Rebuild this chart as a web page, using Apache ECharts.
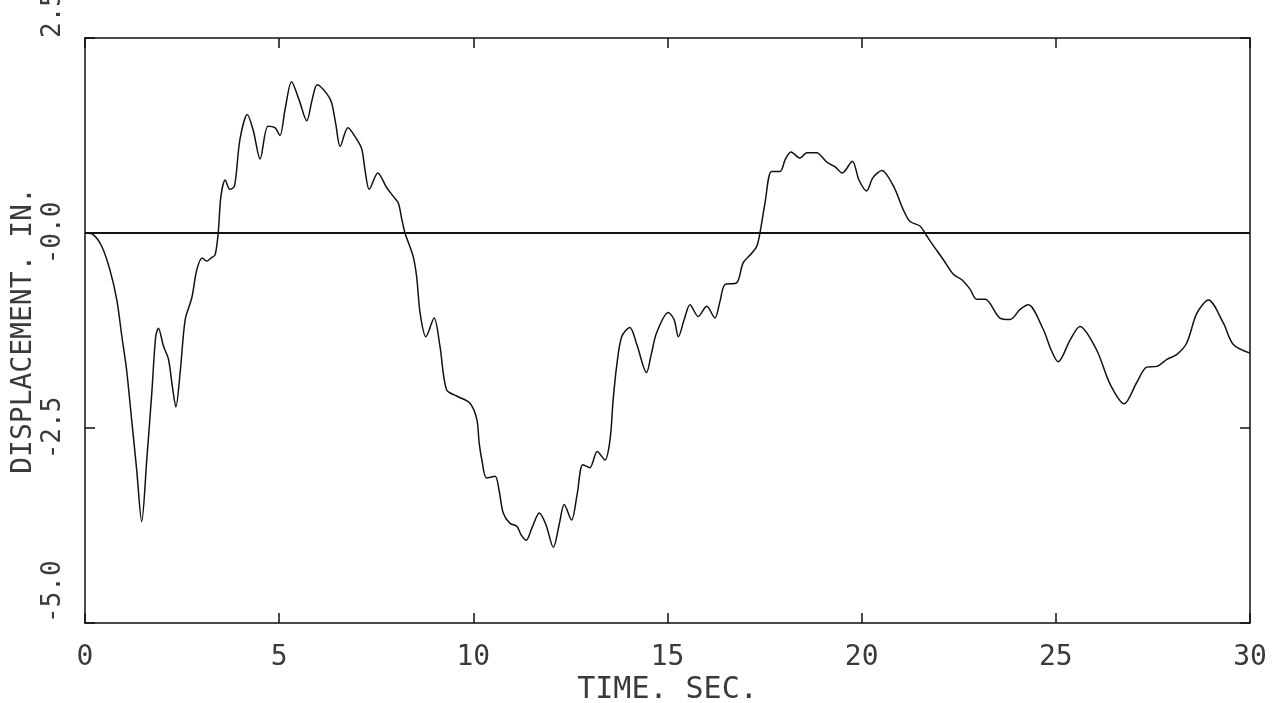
<!DOCTYPE html>
<html>
<head>
<meta charset="utf-8">
<script src="https://cdn.jsdelivr.net/npm/echarts@6/dist/echarts.min.js"></script>
<style>
  html, body { margin: 0; padding: 0; background: #fff; }
  #chart { width: 1281px; height: 703px; }
</style>
</head>
<body>
<div id="chart"></div>
<script>
// Time (sec) samples
const timeSec = [
  0, 0.21, 0.43, 0.64, 0.82, 0.95, 1.07, 1.20, 1.33, 1.46, 1.59, 1.72, 1.82, 1.89, 2.02, 2.15, 2.25, 2.34, 2.45, 2.58,
  2.75, 2.88, 3.02, 3.13, 3.25, 3.35, 3.43, 3.50, 3.61, 3.73, 3.85, 3.99, 4.18, 4.33, 4.51, 4.71, 4.89, 5.02, 5.15, 5.32,
  5.51, 5.71, 5.85, 5.98, 6.22, 6.35, 6.46, 6.57, 6.77, 7.00, 7.13, 7.21, 7.32, 7.54, 7.77, 7.94, 8.07, 8.16, 8.24, 8.45,
  8.54, 8.63, 8.78, 8.99, 9.14, 9.31, 9.57, 9.91, 10.09, 10.15, 10.22, 10.34, 10.56, 10.66, 10.77, 10.94, 11.12, 11.23, 11.36, 11.51,
  11.70, 11.87, 12.06, 12.21, 12.34, 12.53, 12.67, 12.82, 13.00, 13.19, 13.39, 13.52, 13.60, 13.69, 13.82, 14.03, 14.21, 14.46, 14.58, 14.72,
  15.02, 15.17, 15.28, 15.43, 15.58, 15.79, 16.01, 16.22, 16.35, 16.48, 16.78, 16.95, 17.17, 17.30, 17.38, 17.51, 17.68, 17.90, 18.03, 18.18,
  18.41, 18.59, 18.84, 19.10, 19.31, 19.50, 19.76, 19.93, 20.13, 20.29, 20.52, 20.82, 21.07, 21.24, 21.50, 21.63, 21.80, 22.10, 22.36, 22.58,
  22.79, 22.96, 23.18, 23.56, 23.82, 24.08, 24.29, 24.68, 24.88, 25.06, 25.37, 25.62, 26.05, 26.40, 26.76, 27.08, 27.34, 27.60, 27.86, 28.11,
  28.37, 28.63, 28.93, 29.31, 29.57, 30.00
];
// Displacement (in.) samples
const displacementIn = [
  0, -0.02, -0.17, -0.47, -0.86, -1.33, -1.75, -2.39, -3.03, -3.70, -2.91, -2.05, -1.33, -1.22, -1.45, -1.62, -1.97, -2.23, -1.79, -1.11,
  -0.83, -0.47, -0.32, -0.36, -0.32, -0.28, 0, 0.47, 0.68, 0.56, 0.60, 1.20, 1.52, 1.32, 0.95, 1.37, 1.35, 1.25, 1.58, 1.94,
  1.71, 1.44, 1.71, 1.90, 1.79, 1.67, 1.39, 1.11, 1.35, 1.20, 1.07, 0.81, 0.56, 0.77, 0.58, 0.47, 0.38, 0.17, 0, -0.30,
  -0.56, -1.03, -1.33, -1.09, -1.45, -2.01, -2.09, -2.18, -2.39, -2.69, -2.91, -3.14, -3.12, -3.29, -3.59, -3.72, -3.76, -3.87, -3.94, -3.78,
  -3.59, -3.74, -4.03, -3.74, -3.48, -3.68, -3.36, -2.97, -3.01, -2.80, -2.91, -2.65, -2.14, -1.71, -1.33, -1.21, -1.43, -1.79, -1.56, -1.28,
  -1.02, -1.11, -1.33, -1.11, -0.92, -1.07, -0.94, -1.09, -0.88, -0.66, -0.64, -0.38, -0.26, -0.17, 0, 0.38, 0.79, 0.79, 0.94, 1.04,
  0.96, 1.03, 1.03, 0.91, 0.85, 0.77, 0.92, 0.68, 0.54, 0.71, 0.80, 0.60, 0.30, 0.15, 0.09, 0, -0.13, -0.34, -0.53, -0.60,
  -0.72, -0.85, -0.85, -1.09, -1.11, -0.98, -0.92, -1.24, -1.50, -1.65, -1.37, -1.20, -1.50, -1.94, -2.19, -1.92, -1.72, -1.71, -1.62, -1.56,
  -1.41, -1.03, -0.86, -1.15, -1.43, -1.54
];
const xTicks = [0, 5, 10, 15, 20, 25, 30];
const yTicks = [-5.0, -2.5, 0.0, 2.5];
const yTickLabels = ['-5.0', '-2.5', '-0.0', '2.5'];
const xTitle = 'TIME. SEC.';
const yTitle = 'DISPLACEMENT. IN.';

const seriesData = timeSec.map((t, i) => [t, displacementIn[i]]);

const FONT = 'DejaVu Sans Mono';
const TXT = '#3a3a3a';
const INK = '#111';

const chart = echarts.init(document.getElementById('chart'), null, { renderer: 'canvas' });
chart.setOption({
  backgroundColor: '#fff',
  animation: false,
  grid: { left: 85, right: 31, top: 38, bottom: 80, containLabel: false, outerBoundsMode: 'none' },
  xAxis: [
    {
      type: 'value', min: xTicks[0], max: xTicks[xTicks.length - 1], interval: 5,
      position: 'bottom',
      name: xTitle, nameLocation: 'middle', nameGap: 52, nameMoveOverlap: false,
      nameTextStyle: { fontFamily: FONT, fontSize: 30, color: TXT },
      axisLine: { show: true, onZero: false, lineStyle: { color: INK, width: 1.5 } },
      axisTick: { show: true, inside: true, length: 10, lineStyle: { color: INK, width: 1.5 } },
      axisLabel: { show: true, margin: 21, fontFamily: FONT, fontSize: 28, color: TXT,
        formatter: v => String(v) },
      splitLine: { show: false }
    },
    {
      type: 'value', min: xTicks[0], max: xTicks[xTicks.length - 1], interval: 5,
      position: 'top',
      axisLine: { show: true, onZero: false, lineStyle: { color: INK, width: 1.5 } },
      axisTick: { show: true, inside: true, length: 10, lineStyle: { color: INK, width: 1.5 } },
      axisLabel: { show: false },
      splitLine: { show: false }
    }
  ],
  yAxis: [
    {
      type: 'value', min: yTicks[0], max: yTicks[yTicks.length - 1], interval: 2.5,
      position: 'left',
      name: yTitle, nameLocation: 'middle', nameGap: 47, nameRotate: 90, nameMoveOverlap: false,
      nameTextStyle: { fontFamily: FONT, fontSize: 28, color: TXT },
      axisLine: { show: true, onZero: false, lineStyle: { color: INK, width: 1.5 } },
      axisTick: { show: true, inside: true, length: 10, lineStyle: { color: INK, width: 1.5 } },
      axisLabel: {
        show: true, rotate: 90, margin: 19, fontFamily: FONT, fontSize: 26, color: TXT,
        alignMinLabel: 'left', alignMaxLabel: 'left',
        formatter: v => {
          const i = yTicks.findIndex(t => Math.abs(t - v) < 1e-9);
          return i >= 0 ? yTickLabels[i] : '';
        }
      },
      splitLine: { show: false }
    },
    {
      type: 'value', min: yTicks[0], max: yTicks[yTicks.length - 1], interval: 2.5,
      position: 'right',
      axisLine: { show: true, onZero: false, lineStyle: { color: INK, width: 1.5 } },
      axisTick: { show: true, inside: true, length: 10, lineStyle: { color: INK, width: 1.5 } },
      axisLabel: { show: false },
      splitLine: { show: false }
    }
  ],
  series: [
    {
      type: 'line',
      xAxisIndex: 0, yAxisIndex: 0,
      data: seriesData,
      showSymbol: false,
      smooth: 0.3,
      lineStyle: { color: INK, width: 1.5 },
      markLine: {
        silent: true,
        symbol: ['none', 'none'],
        label: { show: false },
        lineStyle: { color: INK, width: 2.2, type: 'solid' },
        data: [{ yAxis: 0 }]
      }
    }
  ]
});
</script>
</body>
</html>
